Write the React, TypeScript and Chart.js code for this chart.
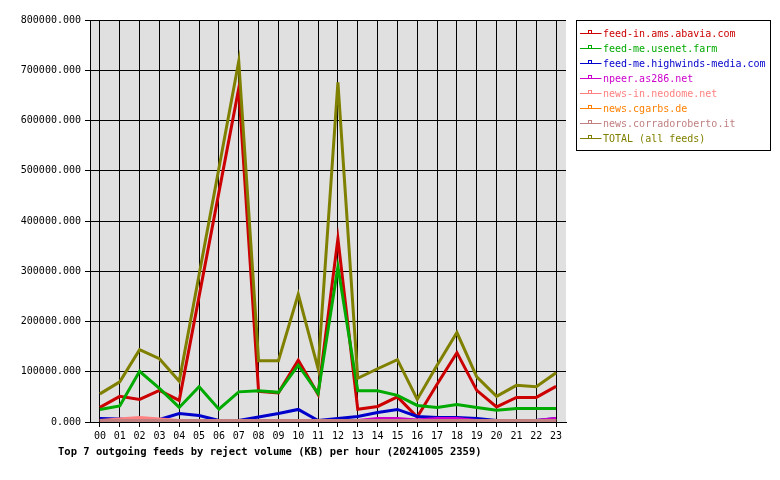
import React, { useEffect, useRef } from "react";
import { Chart, registerables } from "chart.js";

Chart.register(...registerables);

const HOURS = ["00","01","02","03","04","05","06","07","08","09","10","11","12","13","14","15","16","17","18","19","20","21","22","23"];

const SERIES_NAMES = [
  "feed-in.ams.abavia.com",
  "feed-me.usenet.farm",
  "feed-me.highwinds-media.com",
  "npeer.as286.net",
  "news-in.neodome.net",
  "news.cgarbs.de",
  "news.corradoroberto.it",
  "TOTAL (all feeds)",
];

const SERIES_COLORS = ["#cc0000", "#00aa00", "#0000cc", "#cc00cc", "#ff8080", "#ff8000", "#c08080", "#808000"];

const AMS = [26000, 48000, 42000, 60000, 40000, 247000, 454000, 661000, 58000, 55000, 120000, 52000, 362000, 22500, 28000, 47000, 7000, 72000, 135000, 60000, 27000, 46000, 46000, 68000];
const USENET = [22000, 29000, 98000, 64000, 26000, 67000, 22500, 57000, 59000, 56000, 110000, 54000, 306000, 59000, 59000, 50000, 30000, 26000, 32000, 26000, 20500, 24000, 24000, 24000];
const HIGHWINDS = [4000, 3000, 0, 2000, 14000, 10000, 0, 0, 7000, 14000, 22000, 0, 4000, 8000, 16000, 22000, 8000, 6000, 6000, 4000, 0, 0, 0, 4000];
const NPEER = [0, 0, 0, 0, 0, 0, 0, 0, 0, 0, 0, 0, 0, 0, 4000, 4000, 1000, 4000, 4000, 0, 0, 0, 0, 4000];
const NEODOME = [0, 3000, 6000, 3000, 0, 0, 0, 0, 0, 0, 0, 0, 0, 0, 0, 0, 0, 0, 0, 0, 0, 0, 0, 0];
const CGARBS = [0, 0, 0, 0, 0, 0, 0, 0, 0, 0, 0, 0, 0, 0, 0, 0, 0, 0, 0, 0, 0, 0, 0, 0];
const CORRADO = [0, 0, 0, 0, 0, 0, 0, 0, 0, 0, 0, 0, 0, 0, 0, 0, 0, 0, 0, 0, 0, 0, 0, 0];
const TOTAL = [53000, 77000, 141000, 123000, 78000, 290000, 502000, 715000, 119000, 119000, 251000, 103000, 673000, 84000, 103000, 121000, 42000, 110000, 175000, 87000, 48000, 70000, 67000, 95000];

const SERIES_VALUES = [AMS, USENET, HIGHWINDS, NPEER, NEODOME, CGARBS, CORRADO, TOTAL];

const Y_MIN = 0;
const Y_MAX = 800000;
const Y_STEP = 100000;

const TITLE = "Top 7 outgoing feeds by reject volume (KB) per hour (20241005 2359)";

const FONT = "'DejaVu Sans Mono', 'Liberation Mono', monospace";

const plotBackground = {
  id: "plotBackground",
  beforeDraw(chart: any) {
    const { ctx, chartArea: a } = chart;
    ctx.save();
    ctx.fillStyle = "#e0e0e0";
    ctx.fillRect(a.left, a.top, a.right - a.left, a.bottom - a.top);
    ctx.restore();
  },
};

// the source renderer draws its thick lines growing upward from the value pixel
const lineLift = {
  id: "lineLift",
  beforeDatasetsDraw(chart: any) {
    chart.ctx.save();
    chart.ctx.translate(0, -1.5);
  },
  afterDatasetsDraw(chart: any) {
    chart.ctx.restore();
  },
};

const legendAndTitle = {
  id: "legendAndTitle",
  afterDraw(chart: any) {
    const { ctx, chartArea: a } = chart;
    ctx.save();
    const x0 = Math.round(a.right) + 10.5;
    const y0 = Math.round(a.top) + 0.5;
    const w = 194;
    const h = 130;
    ctx.fillStyle = "#ffffff";
    ctx.fillRect(x0, y0, w, h);
    ctx.strokeStyle = "#000000";
    ctx.lineWidth = 1;
    ctx.strokeRect(x0, y0, w, h);
    ctx.font = `10px ${FONT}`;
    ctx.textBaseline = "middle";
    ctx.textAlign = "left";
    chart.data.datasets.forEach((ds: any, i: number) => {
      const cy = Math.round(y0 + 12 + 15 * i) + 0.5;
      ctx.strokeStyle = ds.borderColor;
      ctx.lineWidth = 1;
      ctx.beginPath();
      ctx.moveTo(x0 + 3.5, cy);
      ctx.lineTo(x0 + 25, cy);
      ctx.stroke();
      ctx.strokeRect(x0 + 12, cy - 3, 3, 3);
      ctx.fillStyle = ds.borderColor;
      ctx.fillText(ds.label, x0 + 26.5, cy + 0.5);
    });
    ctx.fillStyle = "#000000";
    ctx.font = `bold 10.5px ${FONT}`;
    ctx.textBaseline = "middle";
    ctx.fillText(TITLE, 58, 452);
    ctx.restore();
  },
};

export default function App() {
  const canvasRef = useRef<HTMLCanvasElement | null>(null);

  useEffect(() => {
    const canvas = canvasRef.current;
    if (!canvas) return;
    const n = SERIES_NAMES.length;
    const chart = new Chart(canvas, {
      type: "line",
      data: {
        labels: HOURS,
        datasets: SERIES_NAMES.map((name, i) => ({
          label: name,
          data: SERIES_VALUES[i],
          borderColor: SERIES_COLORS[i],
          backgroundColor: SERIES_COLORS[i],
          borderWidth: 3,
          pointRadius: 0,
          pointHoverRadius: 0,
          tension: 0,
          fill: false,
          clip: false,
          order: n - 1 - i,
        })),
      },
      options: {
        animation: false,
        responsive: false,
        devicePixelRatio: 1,
        layout: { padding: { top: 20, right: 214, left: 0, bottom: 0 } },
        plugins: {
          legend: { display: false },
          title: { display: false },
          tooltip: { enabled: false },
        },
        scales: {
          x: {
            type: "category",
            offset: true,
            grid: { color: "#000000", lineWidth: 1, drawTicks: true, tickLength: 5, offset: false },
            border: { color: "#000000", width: 1 },
            ticks: {
              color: "#000000",
              font: { family: FONT, size: 10 },
              padding: 3,
              maxRotation: 0,
              autoSkip: false,
            },
            afterFit: (s: any) => {
              s.height = 58;
            },
          },
          y: {
            min: Y_MIN,
            max: Y_MAX,
            grid: { color: "#000000", lineWidth: 1, drawTicks: true, tickLength: 5 },
            border: { color: "#000000", width: 1 },
            ticks: {
              stepSize: Y_STEP,
              color: "#000000",
              font: { family: FONT, size: 10 },
              padding: 4,
              callback: (v: any) => Number(v).toFixed(3),
            },
            afterFit: (s: any) => {
              s.width = 90;
            },
          },
        },
      },
      plugins: [plotBackground, lineLift, legendAndTitle],
    } as any);
    return () => chart.destroy();
  }, []);

  return (
    <div style={{ position: "absolute", left: 0, top: 0, width: 780, height: 480, background: "#ffffff" }}>
      <canvas ref={canvasRef} width={780} height={480} style={{ display: "block" }} />
    </div>
  );
}
